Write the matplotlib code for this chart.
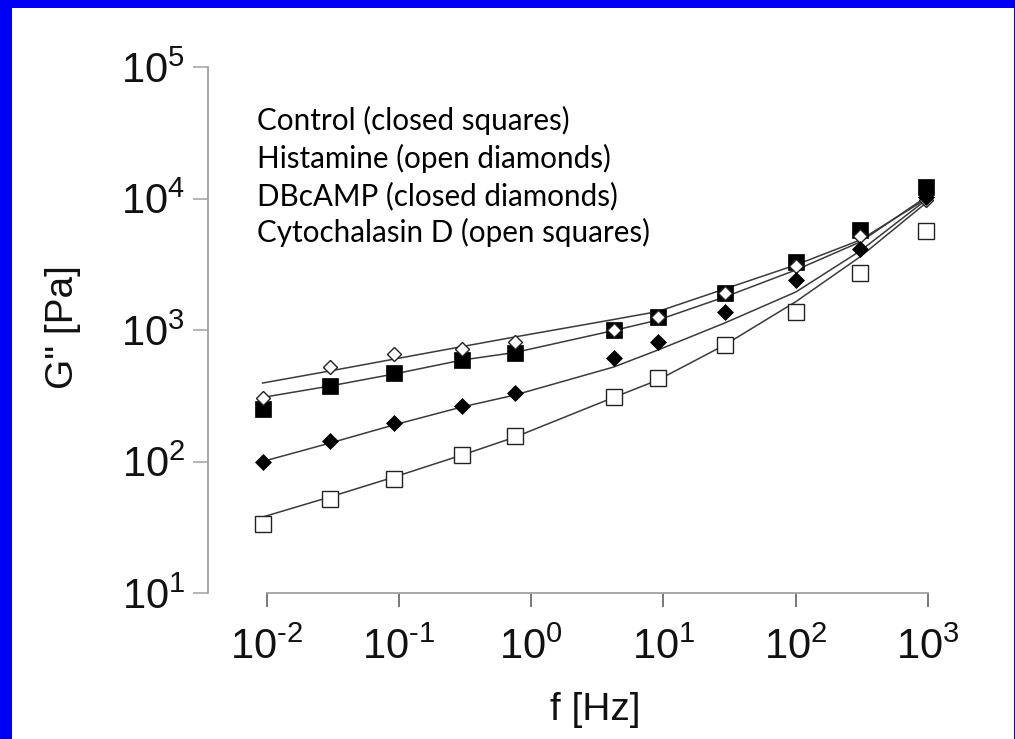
import matplotlib
matplotlib.use("Agg")
import matplotlib.pyplot as plt
from matplotlib.patches import Rectangle

# ---------------- data ----------------
freq = [0.0093, 0.030, 0.092, 0.30, 0.75, 4.2, 9.1, 29, 100, 307, 966]

control = [249, 375, 469, 591, 665, 1000, 1250, 1922, 3307, 5755, 12300]
histamine = [303, 526, 653, 717, 806, 1000, 1262, 1901, 3069, 5188, 9745]
dbcamp = [99.6, 143, 195, 266, 330, 609, 806, 1364, 2400, 4130, 10300]
cytochalasin = [33.5, 51.9, 73.6, 112, 155, 308, 430, 769, 1364, 2728, 5690]

histamine_fit = [395, 488, 601, 748, 885, 1202, 1383, 2051, 3122, 4833, 9910]
control_fit = [307, 375, 463, 591, 674, 991, 1191, 1782, 2858, 4670, 10260]
dbcamp_fit = [100, 138, 190, 260, 320, 523, 705, 1130, 1944, 3990, 9745]
cytochalasin_fit = [37.8, 53.7, 76.2, 112, 153, 307, 417, 769, 1641, 3606, 9247]

x_ticks = [1e-2, 1e-1, 1e0, 1e1, 1e2, 1e3]
x_ticklabels = [r'$\mathregular{10^{\text{-}2}}$', r'$\mathregular{10^{\text{-}1}}$',
                r'$\mathregular{10^{0}}$', r'$\mathregular{10^{1}}$',
                r'$\mathregular{10^{2}}$', r'$\mathregular{10^{3}}$']
y_ticks = [1e1, 1e2, 1e3, 1e4, 1e5]
y_ticklabels = [r'$\mathregular{10^{1}}$', r'$\mathregular{10^{2}}$', r'$\mathregular{10^{3}}$',
                r'$\mathregular{10^{4}}$', r'$\mathregular{10^{5}}$']

legend_lines = ["Control (closed squares)",
                "Histamine (open diamonds)",
                "DBcAMP (closed diamonds)",
                "Cytochalasin D (open squares)"]

# ---------------- style ----------------
plt.rcParams['font.family'] = ['Liberation Sans', 'DejaVu Sans']
plt.rcParams['mathtext.fontset'] = 'custom'
plt.rcParams['mathtext.rm'] = 'Liberation Sans'
plt.rcParams['mathtext.it'] = 'Liberation Sans:italic'
plt.rcParams['mathtext.bf'] = 'Liberation Sans:bold'

W, H = 1015, 739
fig = plt.figure(figsize=(W / 100, H / 100), dpi=100)
fig.patch.set_facecolor('#0000F5')
fig.add_artist(Rectangle((12 / W, 0), (1013.5 - 12) / W, (H - 8) / H,
                         transform=fig.transFigure, facecolor='white',
                         edgecolor='none', zorder=-1))

ax = fig.add_axes([208 / W, 1 - 593 / H, 720 / W, 526 / H])
ax.set_facecolor('none')
ax.set_xscale('log')
ax.set_yscale('log')
ax.set_xlim(10 ** -2.444, 1e3)
ax.set_ylim(1e1, 1e5)

line_kw = dict(color='#3a3a3a', lw=1.1, zorder=2, clip_on=False)
ax.plot(freq, histamine_fit, **line_kw)
ax.plot(freq, control_fit, **line_kw)
ax.plot(freq, dbcamp_fit, **line_kw)
ax.plot(freq, cytochalasin_fit, **line_kw)

ax.plot(freq, cytochalasin, ls='none', marker='s', ms=11.3, mfc='white',
        mec='#222222', mew=1.0, zorder=3, clip_on=False)
ax.plot(freq, control, ls='none', marker='s', ms=12, mfc='black',
        mec='black', mew=0.5, zorder=4, clip_on=False)
ax.plot(freq, histamine, ls='none', marker='D', ms=7.6, mfc='white',
        mec='#222222', mew=1.0, zorder=5, clip_on=False)
ax.plot(freq, dbcamp, ls='none', marker='D', ms=8.3, mfc='black',
        mec='black', mew=0.5, zorder=6, clip_on=False)

for s in ['top', 'right']:
    ax.spines[s].set_visible(False)
for s in ['left', 'bottom']:
    ax.spines[s].set_color('#a0a0a0')
    ax.spines[s].set_linewidth(1.3)
ax.spines['left'].set_bounds(1e1, 1e5)
ax.spines['bottom'].set_bounds(1e-2, 1e3)

ax.minorticks_off()
ax.set_xticks(x_ticks)
ax.set_xticklabels(x_ticklabels)
ax.set_yticks(y_ticks)
ax.set_yticklabels(y_ticklabels)
ax.tick_params(axis='y', direction='out', length=10.5, width=1.1,
               color='#a0a0a0', pad=6, labelsize=30, labelcolor='#111111')
ax.tick_params(axis='x', direction='out', length=10, width=1.1,
               color='#555555', pad=15, labelsize=30, labelcolor='#111111')

ax.set_ylabel('G" [Pa]', fontsize=28, color='#111111', ha='center', va='center')
ax.yaxis.set_label_coords((63 - 208) / 720, (593 - 327) / 526)
ax.set_xlabel('f [Hz]', fontsize=28, color='#111111', ha='center', va='center')
ax.xaxis.set_label_coords((595 - 208) / 720, (593 - 710) / 526)

baselines = [130, 168, 205, 242]
for txt, yb in zip(legend_lines, baselines):
    fig.text(257 / W, 1 - yb / H, txt, fontsize=21.3, family=['Lato', 'DejaVu Sans'],
             color='black', ha='left', va='baseline')

fig.savefig('out.png', dpi=100, facecolor=fig.get_facecolor())
